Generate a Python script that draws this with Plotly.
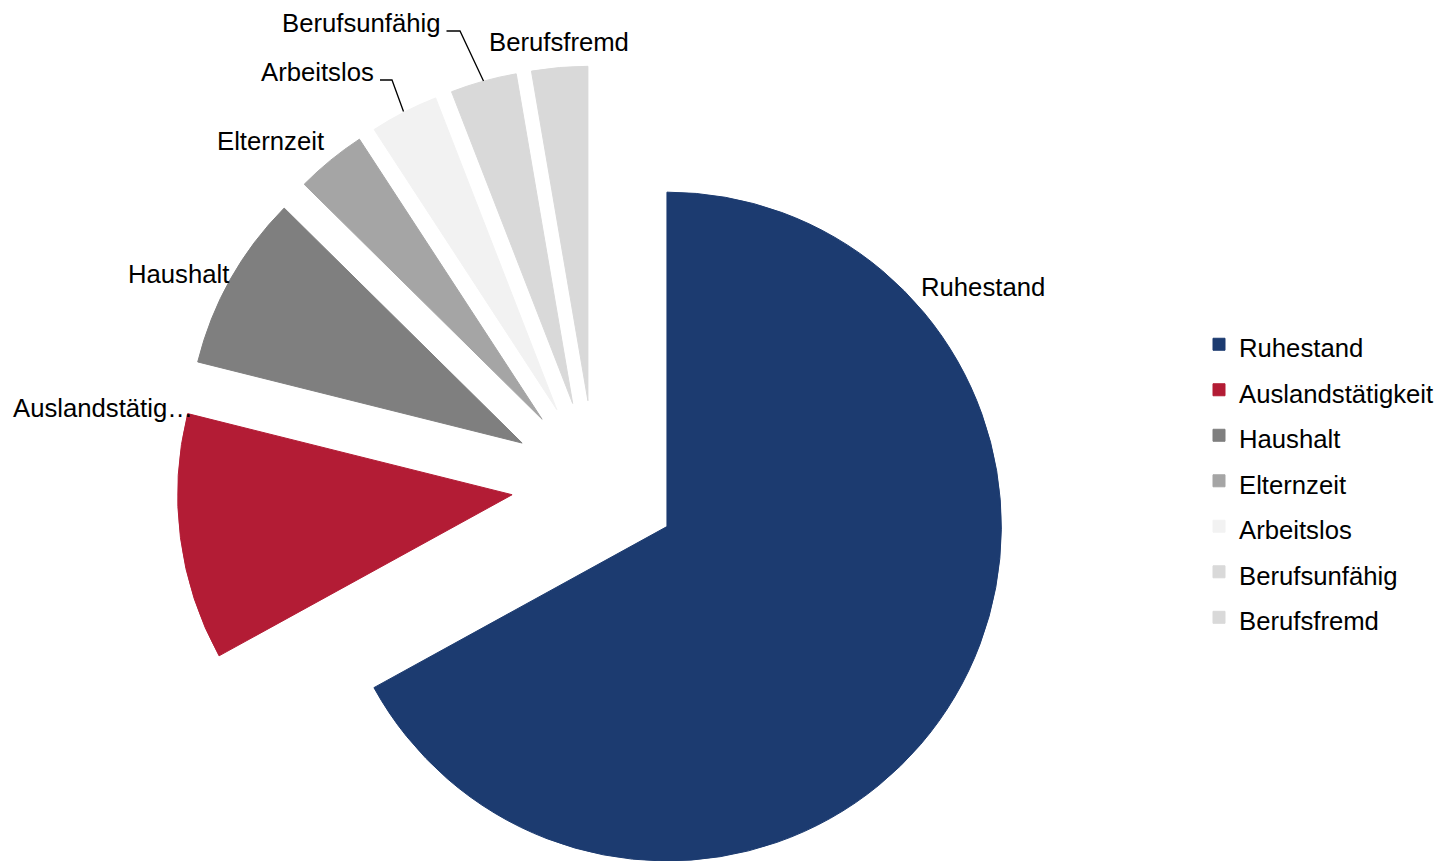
import plotly.graph_objects as go

# ---- data ----
labels = ["Ruhestand", "Auslandstätigkeit", "Haushalt", "Elternzeit",
          "Arbeitslos", "Berufsunfähig", "Berufsfremd"]
values = [67.0, 11.9, 8.5, 3.4, 3.3, 3.2, 2.7]
slice_texts = ["Ruhestand", "Auslandstätig…", "Haushalt", "Elternzeit",
               "Arbeitslos", "Berufsunfähig", "Berufsfremd"]

# ---- style ----
colors = ["#1C3B70", "#B31C35", "#7F7F7F", "#A5A5A5",
          "#F2F2F2", "#D9D9D9", "#D9D9D9"]
FONT = "Liberation Sans, Arial, sans-serif"
TXT = 25.7
OFF = 8            # page body margin
W, H = 1439, 894   # figure size

def px(x):
    return (x - OFF) / W

def py(y):
    return 1 - (y - OFF) / H

# pie placement (page pixels): centre and half-size of the pie box
CX, CY, HALF = 595, 484, 418

# label anchor positions (left edge, vertical middle) in page pixels
label_pos = [(919, 287), (11, 407.5), (126, 274), (214.5, 141),
             (258.5, 72.5), (279.5, 22.5), (487, 42.4)]

legend_labels = ['<span style="font-size:%spx">%s</span>' % (TXT, l) for l in labels]

fig = go.Figure(go.Pie(
    labels=legend_labels,
    values=values,
    customdata=labels,
    sort=False,
    direction="clockwise",
    rotation=0,
    pull=0.25,
    textinfo="none",
    hovertemplate="%{customdata}: %{percent}<extra></extra>",
    marker=dict(colors=colors, line=dict(width=1, color=colors)),
    domain=dict(x=[px(CX - HALF), px(CX + HALF)],
                y=[py(CY + HALF), py(CY - HALF)]),
))

annotations = []
for t, (x, y) in zip(slice_texts, label_pos):
    annotations.append(dict(
        text=t, x=px(x), y=py(y), xref="paper", yref="paper",
        xanchor="left", yanchor="middle", showarrow=False,
        font=dict(family=FONT, size=TXT, color="#000000"),
    ))

leader_paths = [
    [(380, 80), (392, 80), (403.5, 111.5)],
    [(446.5, 31), (460, 31), (483.5, 81)],
]
shapes = []
for pts in leader_paths:
    path = "M " + " L ".join("%f,%f" % (px(a), py(b)) for a, b in pts)
    shapes.append(dict(type="path", path=path, xref="paper", yref="paper",
                       line=dict(color="#000000", width=1.3)))

fig.update_layout(
    width=W, height=H,
    margin=dict(l=0, r=0, t=0, b=0, autoexpand=False),
    paper_bgcolor="white", plot_bgcolor="white",
    font=dict(family=FONT, color="#000000"),
    showlegend=True,
    legend=dict(x=px(1199), y=py(316.5), xanchor="left", yanchor="top",
                font=dict(family=FONT, size=32.7, color="#000000"),
                bgcolor="rgba(0,0,0,0)", traceorder="normal"),
    annotations=annotations,
    shapes=shapes,
)

fig.write_html("out.html")
